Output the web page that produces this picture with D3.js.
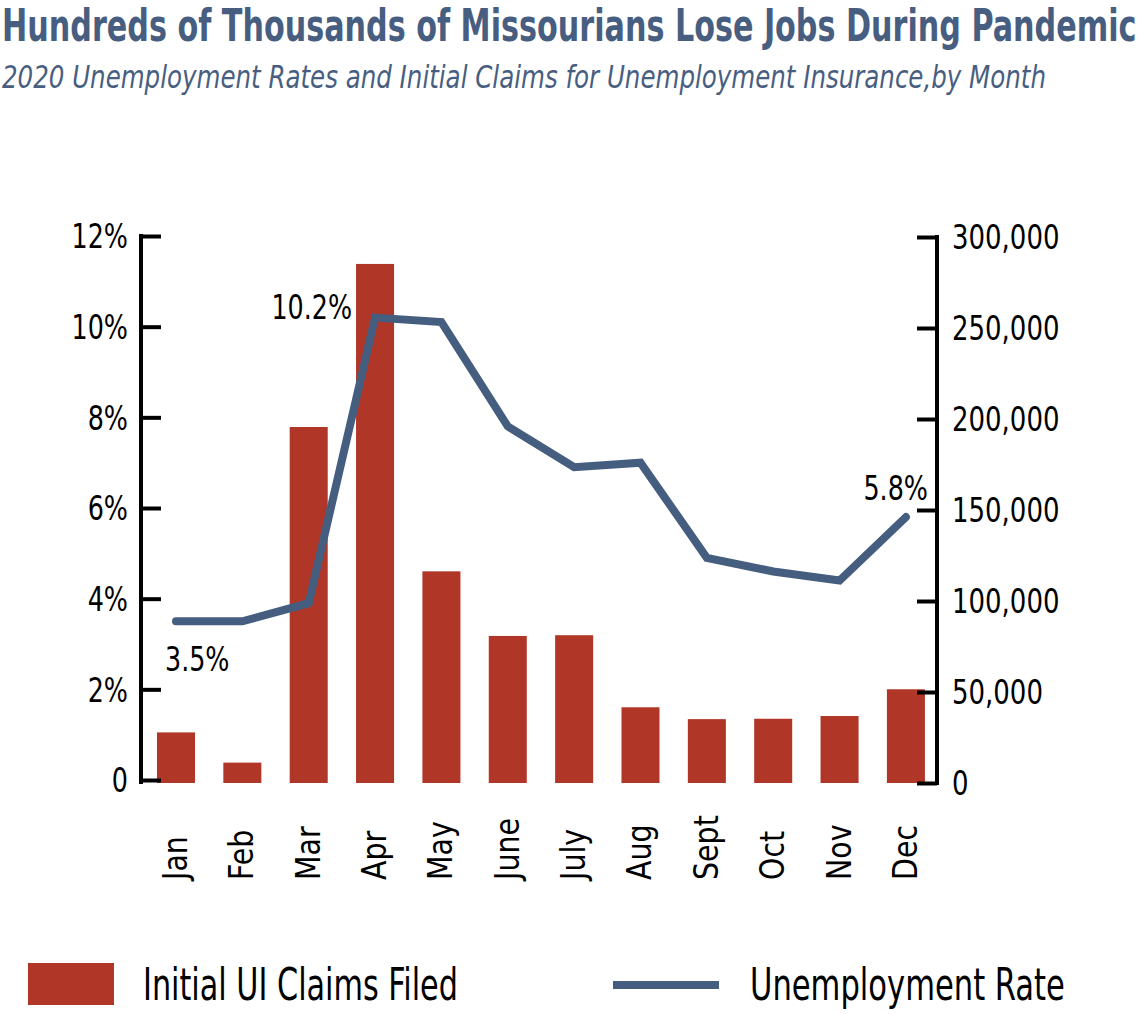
<!DOCTYPE html>
<html><head><meta charset="utf-8">
<script src="https://cdn.jsdelivr.net/npm/d3@7"></script>
<style>
body{margin:0;background:#fff;}
svg{display:block;font-family:"Liberation Sans Narrow","DejaVu Sans Condensed","Roboto",sans-serif;}
</style></head><body>
<svg id="c" width="1144" height="1014"></svg>
<script>
const months = ["Jan","Feb","Mar","Apr","May","June","July","Aug","Sept","Oct","Nov","Dec"];
const claims = [27800, 11200, 195600, 285200, 116300, 80800, 81200, 41600, 35100, 35300, 36800, 51500];
const rate = [3.5, 3.5, 3.9, 10.2, 10.1, 7.8, 6.9, 7.0, 4.9, 4.6, 4.4, 5.8];
const leftTicks = [0, 2, 4, 6, 8, 10, 12];
const rightTicks = [0, 50000, 100000, 150000, 200000, 250000, 300000];
const annotations = [{i:0, text:"3.5%"}, {i:3, text:"10.2%"}, {i:11, text:"5.8%"}];

const svg = d3.select("#c");
const titleColor = "#485e80";
const barColor = "#b03727";
const lineColor = "#455d7e";

// place a text at (x,y), optionally rotated, horizontally condensed by k (or fitted to width w)
function placeText(g, str, x, y, opts) {
  const t = g.append("text").text(str)
    .attr("font-size", opts.size).attr("fill", opts.fill || "#000")
    .attr("text-anchor", opts.anchor || "start");
  if (opts.weight) t.attr("font-weight", opts.weight);
  if (opts.style) t.attr("font-style", opts.style);
  if (opts.dy) t.attr("dy", opts.dy);
  let k = opts.k || 1;
  if (opts.w) k = opts.w / t.node().getComputedTextLength();
  const rot = opts.rotate ? ` rotate(${opts.rotate})` : "";
  t.attr("transform", `translate(${x},${y})${rot} scale(${k},1)`);
  return t;
}

placeText(svg, "Hundreds of Thousands of Missourians Lose Jobs During Pandemic", 2, 41,
  {size: 44, weight: "bold", fill: titleColor, w: 1135});
placeText(svg, "2020 Unemployment Rates and Initial Claims for Unemployment Insurance,by Month", 2, 88,
  {size: 32, style: "italic", fill: titleColor, w: 1044});

const x = d3.scaleBand().domain(months).range([143.7, 938.2]).paddingInner(0.427).paddingOuter(0.2);
const yL = d3.scaleLinear().domain([0, 12]).range([780, 236]);
const yR = d3.scaleLinear().domain([0, 300000]).range([783, 237]);

// bars
svg.append("g").selectAll("rect").data(claims).join("rect")
  .attr("x", (d,i) => x(months[i])).attr("width", x.bandwidth())
  .attr("y", d => yR(d)).attr("height", d => yR(0) - yR(d))
  .attr("fill", barColor);

// left axis
const gL = svg.append("g").attr("transform", "translate(141,0)")
  .call(d3.axisRight(yL).tickValues(leftTicks).tickSize(20).tickFormat(() => ""));
gL.select(".domain").attr("d", "M0,234V784").attr("stroke", "#000").attr("stroke-width", 4);
gL.selectAll(".tick line").attr("stroke", "#000").attr("stroke-width", 4);
const gLl = svg.append("g");
leftTicks.forEach(d => placeText(gLl, d === 0 ? "0" : d + "%", 128, yL(d),
  {size: 34, anchor: "end", dy: "0.36em", k: 0.83}));

// right axis
const gR = svg.append("g").attr("transform", "translate(937,0)")
  .call(d3.axisLeft(yR).tickValues(rightTicks).tickSize(20).tickFormat(() => ""));
gR.select(".domain").attr("d", "M0,235V785").attr("stroke", "#000").attr("stroke-width", 4);
gR.selectAll(".tick line").attr("stroke", "#000").attr("stroke-width", 4);
const gRl = svg.append("g");
rightTicks.forEach(d => placeText(gRl, d3.format(",")(d), 952, yR(d),
  {size: 34, anchor: "start", dy: "0.36em", k: 0.85}));

// line
const cx = i => x(months[i]) + x.bandwidth() / 2;
const line = d3.line().x((d,i) => cx(i)).y(d => yL(d));
svg.append("path").datum(rate).attr("d", line)
  .attr("fill", "none").attr("stroke", lineColor).attr("stroke-width", 8)
  .attr("stroke-linejoin", "miter").attr("stroke-linecap", "round");

// annotations
const ann = svg.append("g");
placeText(ann, annotations[0].text, cx(0) - 11, yL(rate[0]) + 50, {size: 34, k: 0.83});
placeText(ann, annotations[1].text, cx(3) - 23, yL(rate[3]) + 1, {size: 34, k: 0.83, anchor: "end"});
placeText(ann, annotations[2].text, cx(11) + 22, yL(rate[11]) - 17, {size: 34, k: 0.83, anchor: "end"});

// month labels
const gM = svg.append("g");
months.forEach((d,i) => placeText(gM, d, cx(i) + 11, 880, {size: 34, rotate: -90, k: 0.93}));

// legend
svg.append("rect").attr("x", 28).attr("y", 963).attr("width", 86).attr("height", 42).attr("fill", barColor);
placeText(svg, "Initial UI Claims Filed", 143, 1000, {size: 45, w: 315});
svg.append("line").attr("x1", 613).attr("x2", 719).attr("y1", 985).attr("y2", 985)
  .attr("stroke", lineColor).attr("stroke-width", 8);
placeText(svg, "Unemployment Rate", 750, 1000, {size: 45, w: 315});
</script>
</body></html>
